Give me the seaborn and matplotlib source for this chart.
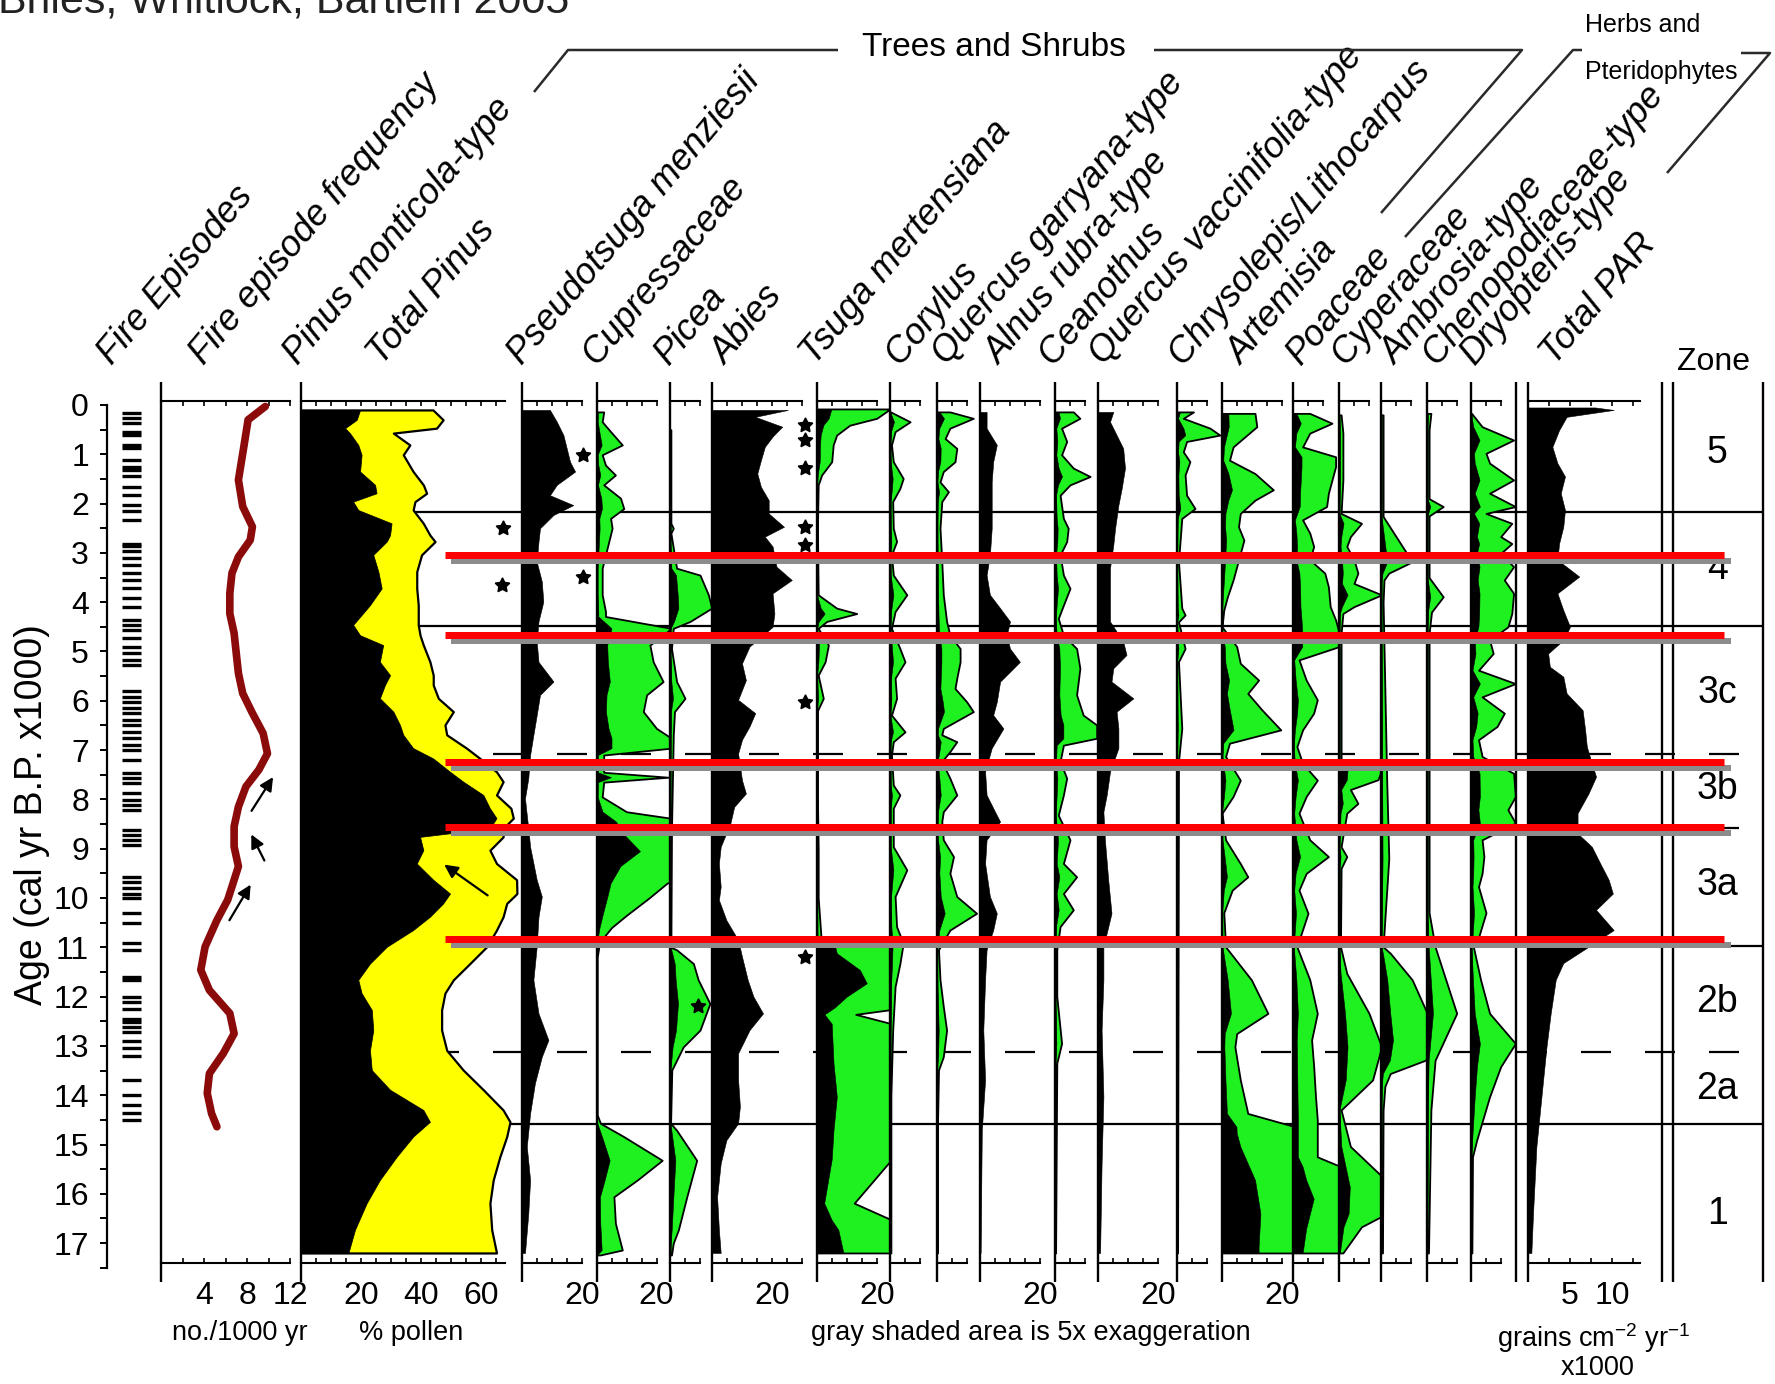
import numpy as np
import pandas as pd
import matplotlib
matplotlib.use("Agg")
import matplotlib.pyplot as plt
import seaborn as sns
from matplotlib import font_manager

# ------------------------------------------------------------------ data
# fire history
FIRE_EPISODE_AGES = [0.17, 0.27, 0.37, 0.54, 0.61, 0.81, 0.88, 1.12, 1.25, 1.32, 1.45, 1.66, 1.83,
                     2.03, 2.16, 2.33, 2.81, 2.87, 2.97, 3.11, 3.25, 3.41, 3.55, 3.72, 3.92, 4.09,
                     4.36, 4.46, 4.56, 4.73, 4.90, 5.04, 5.17, 5.27, 5.81, 5.92, 6.02, 6.15, 6.25,
                     6.39, 6.49, 6.63, 6.76, 6.90, 7.00, 7.20, 7.47, 7.57, 7.67, 7.88, 8.01, 8.11,
                     8.22, 8.62, 8.72, 8.82, 8.92, 9.57, 9.67, 9.80, 9.91, 10.01, 10.31, 10.51,
                     10.92, 11.05, 11.60, 11.66, 12.00, 12.10, 12.25, 12.45, 12.52, 12.62, 12.72,
                     12.90, 13.05, 13.20, 13.69, 14.00, 14.20, 14.37, 14.50]
FIRE_FREQ_AGES = [0.03, 0.30, 0.85, 1.52, 2.06, 2.47, 2.74, 3.08, 3.41, 3.82, 4.23, 4.63, 5.04,
                  5.44, 5.85, 6.25, 6.66, 7.07, 7.40, 7.74, 8.15, 8.55, 8.96, 9.36, 9.77, 10.04,
                  10.45, 10.99, 11.46, 11.87, 12.34, 12.75, 13.15, 13.56, 13.96, 14.37, 14.64]
FIRE_FREQ = [9.7, 8.1, 7.7, 7.2, 7.6, 8.5, 8.3, 7.2, 6.6, 6.4, 6.4, 6.8, 7.0, 7.2, 7.6, 8.5, 9.5,
             9.9, 9.1, 7.9, 7.2, 6.8, 6.8, 7.2, 6.6, 6.2, 5.2, 4.1, 3.7, 4.5, 6.4, 6.8, 5.8, 4.5,
             4.3, 4.7, 5.2]

# pine pollen (%)
PINUS_AGES = [0.10, 0.30, 0.47, 0.57, 0.81, 1.01, 1.35, 1.62, 1.79, 1.96, 2.13, 2.40, 2.64, 2.77,
              3.04, 3.38, 3.72, 4.06, 4.46, 4.67, 4.87, 5.21, 5.48, 5.68, 5.95, 6.22, 6.49, 6.69,
              6.96, 7.17, 7.44, 7.64, 7.91, 8.18, 8.38, 8.59, 8.76, 9.03, 9.30, 9.63, 9.91, 10.11,
              10.38, 10.65, 10.99, 11.33, 11.66, 11.93, 12.27, 12.68, 13.09, 13.49, 13.89, 14.30,
              14.54, 14.84, 15.25, 15.72, 16.19, 16.73, 17.20]
PINUS_MONTICOLA = [19.7, 18.6, 14.7, 16.3, 19.1, 20.2, 19.7, 24.7, 25.2, 17.4, 19.1, 30.2, 29.7,
                   28.6, 24.1, 25.8, 26.9, 23.0, 17.4, 19.7, 27.4, 26.3, 29.7, 28.0, 26.3, 30.8,
                   33.0, 34.1, 37.4, 44.1, 49.7, 54.1, 60.8, 63.0, 65.2, 63.0, 39.7, 40.8, 38.6,
                   44.1, 49.7, 47.4, 43.0, 37.4, 28.6, 23.0, 19.1, 20.2, 23.6, 24.1, 23.0, 23.6,
                   29.7, 40.8, 43.0, 37.4, 31.9, 26.3, 21.9, 18.0, 15.8]
PINUS_TOTAL = [44.0, 47.4, 45.2, 30.8, 36.3, 34.1, 37.4, 40.8, 41.9, 38.0, 37.4, 40.8, 43.0, 44.7,
               40.2, 38.6, 38.6, 39.1, 39.1, 39.7, 40.8, 43.0, 44.1, 44.1, 45.8, 50.8, 48.0, 48.6,
               55.2, 59.7, 65.2, 67.4, 65.2, 70.0, 70.8, 67.4, 67.4, 63.0, 65.2, 71.9, 72.0, 68.6,
               67.4, 65.2, 61.9, 56.3, 50.8, 48.0, 46.9, 46.9, 48.6, 54.1, 60.8, 67.4, 69.7, 68.6,
               66.3, 64.1, 63.0, 63.6, 65.2]

PSEUDOTSUGA_AGES = [0.10, 0.34, 0.61, 0.88, 1.15, 1.35, 1.62, 1.83, 2.03, 2.23, 2.50, 2.77, 3.18,
                    3.58, 3.99, 4.39, 4.80, 5.21, 5.61, 5.88, 6.29, 6.69, 7.10, 7.57, 7.98, 8.32,
                    8.59, 8.96, 9.63, 9.97, 10.38, 10.99, 11.66, 12.34, 12.88, 13.22, 13.76,
                    14.37, 15.04, 15.72, 16.40, 17.20]
PSEUDOTSUGA = [9.4, 11.7, 13.9, 15.0, 16.1, 17.8, 11.7, 9.4, 17.2, 10.6, 6.1, 5.6, 5.0, 6.7, 7.2,
               5.6, 5.0, 5.6, 10.6, 6.1, 5.0, 3.9, 2.8, 2.2, 1.1, 1.7, 2.2, 2.8, 5.0, 6.7, 5.6,
               5.0, 3.9, 5.6, 8.9, 6.7, 4.4, 2.8, 1.7, 2.8, 2.2, 1.1]

CUPRESSACEAE_AGES = [0.14, 0.34, 0.54, 0.81, 1.01, 1.22, 1.42, 1.62, 1.89, 2.10, 2.30, 2.50, 2.77,
                     3.04, 3.31, 3.85, 4.19, 4.29, 4.53, 4.87, 5.21, 5.61, 5.88, 6.22, 6.56, 6.76,
                     6.96, 7.10, 7.45, 7.55, 7.65, 7.95, 8.25, 8.45, 8.70, 9.05, 9.35, 9.70,
                     10.00, 10.35, 10.60, 10.90, 11.20, 14.40, 14.57, 14.84, 15.32, 15.72, 16.06,
                     16.60, 17.14, 17.24]
CUPRESSACEAE = [0.48, 0.38, 0.94, 1.72, 0.38, 0.6, 1.26, 0.48, 1.6, 1.82, 0.94, 1.04, 0.82, 0.6,
                0.38, 0.38, 0.6, 0.6, 5.0, 3.56, 3.78, 4.44, 3.34, 3.12, 4.0, 5.0, 5.0, 0.48,
                0.48, 4.8, 0.48, 0.38, 2.0, 6.5, 9.0, 14.5, 8.0, 4.7, 3.5, 2.0, 1.0, 0.2, 0.05,
                0.05, 0.26, 1.82, 4.38, 2.72, 1.16, 1.26, 1.72, 0.26]

PICEA_AGES = [0.50, 2.40, 2.50, 2.60, 3.31, 3.45, 3.85, 4.12, 4.39, 4.53, 4.94, 5.61, 5.95, 6.22,
              6.69, 8.60, 11.00, 11.05, 11.33, 11.66, 12.14, 12.68, 13.02, 13.49, 14.57, 14.71,
              15.32, 16.06, 16.73, 17.00, 17.24]
PICEA = [0.06, 0.06, 0.22, 0.06, 0.44, 2.0, 2.56, 2.78, 1.34, 0.22, 0.1, 0.44, 1.0, 0.3, 0.22,
         0.1, 0.06, 0.44, 1.56, 1.88, 2.66, 2.0, 0.88, 0.12, 0.04, 0.44, 1.78, 1.12, 0.56, 0.22,
         0.1]

ABIES_AGES = [0.10, 0.24, 0.44, 0.64, 0.85, 1.12, 1.39, 1.66, 1.93, 2.20, 2.47, 2.67, 2.87, 3.28,
              3.55, 3.82, 4.23, 4.50, 4.90, 5.24, 5.58, 5.98, 6.25, 6.52, 6.79, 7.07, 7.61, 7.88,
              8.15, 8.49, 8.96, 9.30, 9.77, 10.04, 10.45, 10.85, 11.19, 11.66, 12.00, 12.34,
              12.68, 13.15, 13.69, 14.23, 14.57, 14.91, 15.38, 16.06, 16.73, 17.20]
ABIES = [25.3, 14.4, 23.4, 20.2, 17.6, 16.3, 15.1, 16.3, 18.9, 18.9, 24.0, 17.6, 20.2, 21.5, 26.6,
         20.2, 20.8, 20.2, 12.5, 10.0, 11.3, 8.7, 14.4, 12.5, 10.0, 8.7, 10.0, 11.3, 7.4, 6.1,
         2.9, 2.3, 2.9, 2.3, 4.8, 8.7, 10.0, 11.9, 13.8, 17.0, 12.5, 8.7, 8.7, 9.3, 8.7, 4.8,
         2.9, 1.7, 2.3, 2.9]

TSUGA_AGES = [0.08, 0.27, 0.41, 0.61, 0.81, 1.15, 1.42, 1.62, 2.50, 3.85, 4.12, 4.23, 4.39, 4.53,
              4.87, 5.21, 5.48, 5.95, 6.20, 7.00, 8.00, 9.00, 10.00, 10.85, 10.95, 11.12, 11.46,
              11.73, 12.00, 12.22, 12.36, 12.55, 13.35, 14.03, 14.71, 15.30, 16.19, 16.53, 16.73,
              17.20]
TSUGA = [4.9, 4.0, 2.2, 1.33, 1.1, 1.0, 0.33, 0.1, 0.05, 0.1, 1.33, 2.67, 0.67, 0.1, 0.78, 0.56,
         0.1, 0.44, 0.05, 0.05, 0.05, 0.1, 0.1, 0.3, 6.0, 6.7, 14.4, 16.7, 10.0, 6.0, 2.6, 5.0,
         5.6, 6.7, 5.6, 5.0, 2.5, 5.0, 7.2, 8.9]

CORYLUS_AGES = [0.14, 0.34, 0.54, 0.81, 1.15, 1.49, 1.69, 1.96, 2.50, 2.77, 3.04, 3.45, 3.85,
                4.19, 4.53, 4.94, 5.21, 5.54, 5.95, 6.29, 6.63, 6.83, 7.10, 7.71, 7.91, 8.18,
                8.96, 9.43, 9.97, 10.58, 10.92, 11.33, 11.80, 12.68, 14.00, 17.20]
CORYLUS = [0.04, 1.34, 0.34, 0.1, 0.22, 0.88, 0.66, 0.18, 0.22, 0.44, 0.1, 0.22, 1.12, 0.34, 0.1,
           0.66, 1.0, 0.34, 0.44, 0.1, 1.0, 0.22, 0.1, 0.22, 0.66, 0.22, 0.22, 1.12, 0.34, 0.44,
           0.88, 0.66, 0.34, 0.18, 0.06, 0.06]

Q_GARRYANA_AGES = [0.14, 0.27, 0.47, 0.68, 0.88, 1.15, 1.35, 1.56, 1.76, 1.96, 2.50, 3.18, 3.85,
                   4.39, 4.67, 4.94, 5.21, 5.54, 5.75, 6.02, 6.22, 6.56, 6.69, 6.83, 7.03, 7.23,
                   7.57, 7.91, 8.25, 8.45, 8.82, 9.16, 9.50, 9.97, 10.31, 10.65, 11.05, 11.66,
                   12.20, 12.68, 13.22, 13.49, 14.50, 17.20]
Q_GARRYANA = [0.88, 2.44, 0.88, 0.56, 1.34, 1.22, 0.44, 0.22, 0.78, 0.34, 0.22, 0.34, 0.44, 0.66,
              0.88, 1.56, 1.56, 1.34, 1.22, 2.0, 2.44, 0.44, 0.34, 1.34, 0.88, 0.34, 0.88, 1.34,
              0.44, 0.34, 0.44, 1.12, 0.88, 1.34, 2.66, 0.88, 0.12, 0.22, 0.44, 0.66, 0.44, 0.12,
              0.06, 0.06]

ALNUS_AGES = [0.14, 0.47, 0.81, 1.15, 1.56, 1.96, 2.50, 3.04, 3.45, 3.85, 4.12, 4.39, 4.67, 4.94,
              5.21, 5.41, 5.61, 6.02, 6.29, 6.56, 6.96, 7.44, 7.91, 8.25, 8.45, 8.82, 9.30, 9.97,
              10.31, 10.65, 11.05, 11.66, 12.68, 13.69, 14.71, 17.20]
ALNUS = [2.2, 2.2, 5.6, 4.4, 3.9, 3.9, 3.9, 3.3, 2.2, 3.3, 6.7, 10.0, 8.9, 10.0, 13.3, 10.0, 6.7,
         5.6, 4.4, 7.8, 3.9, 1.7, 2.2, 5.0, 6.7, 2.2, 1.7, 3.3, 5.6, 4.4, 2.2, 1.7, 1.1, 1.7, 0.6,
         0.2]

CEANOTHUS_AGES = [0.14, 0.27, 0.47, 0.74, 1.01, 1.28, 1.45, 1.62, 1.83, 2.30, 2.50, 2.77, 3.04,
                  3.45, 3.72, 4.06, 4.33, 4.67, 4.94, 5.34, 5.88, 6.29, 6.49, 6.76, 6.90, 7.23,
                  7.57, 7.91, 8.32, 8.82, 9.30, 9.57, 9.91, 10.24, 10.58, 11.05, 12.00, 12.95,
                  13.35, 17.20]
CEANOTHUS = [1.22, 1.66, 0.44, 0.78, 0.44, 1.22, 2.34, 1.0, 0.34, 0.56, 0.88, 0.78, 0.34, 0.56,
             1.0, 0.56, 0.22, 0.56, 1.44, 1.66, 1.44, 1.88, 2.78, 2.78, 0.56, 0.34, 0.78, 0.56,
             0.22, 1.0, 0.56, 1.44, 0.56, 1.22, 0.34, 0.12, 0.12, 0.44, 0.12, 0.04]

Q_VACCINIFOLIA_AGES = [0.14, 0.34, 0.61, 0.88, 1.28, 1.69, 2.03, 2.50, 2.84, 3.31, 3.85, 4.39,
                       4.80, 5.07, 5.34, 5.61, 5.95, 6.22, 6.56, 6.96, 7.44, 7.91, 8.25, 8.82,
                       9.63, 10.31, 10.99, 11.66, 12.68, 14.03, 15.38, 17.20]
Q_VACCINIFOLIA = [5.0, 3.9, 6.1, 8.3, 8.9, 7.8, 6.7, 5.6, 5.0, 3.9, 3.9, 3.9, 8.3, 9.4, 5.0, 4.4,
                  11.7, 6.1, 6.7, 6.7, 3.9, 2.8, 1.7, 2.2, 3.3, 4.4, 1.7, 1.7, 1.1, 1.7, 1.1, 0.6]

CHRYSOLEPIS_AGES = [0.14, 0.27, 0.47, 0.61, 0.74, 0.95, 1.15, 1.42, 1.83, 2.10, 2.30, 3.18, 4.12,
                    4.26, 4.40, 4.94, 5.21, 6.56, 7.23, 17.20]
CHRYSOLEPIS = [1.12, 0.44, 2.22, 2.88, 0.66, 0.44, 0.88, 0.56, 0.66, 1.22, 0.34, 0.12, 0.34, 0.56,
               0.12, 0.56, 0.12, 0.34, 0.12, 0.06]

ARTEMISIA_AGES = [0.17, 0.44, 0.85, 1.12, 1.39, 1.72, 1.93, 2.20, 2.47, 2.74, 3.01, 3.28, 3.55,
                  3.89, 4.16, 4.50, 4.90, 5.24, 5.58, 5.85, 6.19, 6.59, 6.86, 7.13, 7.61, 7.94,
                  8.28, 8.82, 9.30, 9.57, 9.84, 10.30, 10.99, 11.66, 12.34, 12.75, 13.02, 13.69,
                  14.37, 14.64, 14.77, 15.04, 15.72, 16.40, 17.07, 17.20]
ARTEMISIA = [2.22, 2.34, 0.76, 0.52, 2.22, 3.44, 2.22, 1.24, 1.12, 1.48, 1.24, 1.0, 0.76, 0.38,
             0.14, 0.02, 1.0, 1.24, 2.46, 1.74, 2.7, 3.94, 0.52, 0.26, 1.24, 0.76, 0.02, 0.26,
             1.24, 1.74, 0.7, 0.14, 0.26, 1.98, 3.08, 1.0, 0.88, 1.24, 1.74, 4.9, 5.0, 6.2, 11.1,
             12.9, 12.3, 12.3]

POACEAE_AGES = [0.17, 0.37, 0.57, 0.85, 1.05, 1.25, 1.52, 1.79, 2.06, 2.33, 2.60, 2.87, 3.14,
                3.41, 3.69, 4.09, 4.36, 4.63, 4.90, 5.17, 5.58, 5.98, 6.25, 6.59, 6.93, 7.27,
                7.61, 7.94, 8.28, 8.82, 9.16, 9.50, 9.84, 10.31, 10.99, 11.66, 12.34, 12.88,
                13.42, 14.03, 14.50, 15.25, 15.45, 15.72, 16.10, 16.70, 17.20]
POACEAE = [1.12, 2.6, 1.12, 0.64, 2.84, 2.84, 2.6, 2.36, 2.24, 0.64, 1.12, 1.38, 1.12, 2.12, 2.36,
           2.48, 2.84, 3.08, 3.08, 0.4, 0.88, 1.62, 1.38, 0.64, 0.26, 0.64, 1.62, 0.88, 0.4,
           1.12, 2.36, 0.88, 0.4, 1.0, 0.26, 1.12, 1.62, 1.24, 1.38, 1.5, 1.62, 1.62, 3.2, 4.4,
           6.9, 4.4, 3.2]

CYPERACEAE_AGES = [0.20, 0.57, 1.52, 2.20, 2.40, 2.67, 2.87, 3.14, 3.41, 3.62, 3.85, 4.09, 4.23,
                   4.63, 7.25, 7.40, 7.60, 7.80, 8.08, 8.28, 8.96, 9.16, 9.40, 10.99, 11.53,
                   12.34, 13.02, 13.69, 14.30, 15.04, 15.86, 16.40, 16.67, 17.20]
CYPERACEAE = [0.14, 0.26, 0.26, 0.14, 1.5, 0.76, 0.52, 1.0, 1.26, 1.0, 2.84, 1.0, 0.26, 0.14,
              0.14, 2.84, 2.6, 0.76, 1.26, 0.52, 0.14, 0.52, 0.14, 0.1, 0.52, 2.0, 2.84, 2.24,
              0.14, 0.76, 3.6, 3.2, 1.5, 0.26]

AMBROSIA_AGES = [0.20, 2.26, 3.18, 3.41, 3.55, 4.00, 7.60, 9.20, 10.99, 11.12, 11.66, 12.34,
                 12.88, 13.29, 13.56, 13.82, 14.30, 17.20]
AMBROSIA = [0.14, 0.14, 2.08, 0.52, 0.2, 0.14, 0.38, 0.52, 0.14, 0.62, 2.08, 3.08, 4.0, 2.96,
            0.62, 0.26, 0.14, 0.1]

CHENOPODIACEAE_AGES = [0.17, 0.50, 1.90, 2.06, 2.25, 3.50, 3.89, 4.20, 4.63, 6.00, 10.30, 10.99,
                       12.34, 13.29, 14.30, 17.20]
CHENOPODIACEAE = [0.26, 0.14, 0.14, 1.08, 0.14, 0.14, 1.08, 0.3, 0.14, 0.14, 0.14, 0.54, 1.98,
                  0.54, 0.26, 0.1]

DRYOPTERIS_AGES = [0.17, 0.44, 0.71, 0.98, 1.18, 1.52, 1.79, 2.06, 2.20, 2.40, 2.67, 2.81, 3.01,
                   3.28, 3.55, 3.82, 4.23, 4.50, 4.77, 5.04, 5.38, 5.65, 5.92, 6.25, 6.52, 6.79,
                   7.13, 7.47, 7.94, 8.21, 8.48, 8.82, 9.16, 9.50, 9.77, 10.30, 10.80, 10.99,
                   11.66, 12.34, 12.95, 13.42, 14.03, 14.91, 15.25, 17.20]
DRYOPTERIS = [0.04, 0.74, 2.84, 1.0, 1.24, 2.84, 1.24, 2.96, 1.0, 2.72, 1.98, 2.72, 1.98, 2.84,
              2.22, 2.84, 2.72, 2.46, 1.24, 1.48, 0.5, 2.96, 0.74, 2.22, 1.74, 0.5, 0.74, 2.84,
              2.96, 2.46, 2.96, 0.74, 0.86, 0.74, 0.5, 1.0, 0.5, 0.16, 0.64, 1.24, 2.96, 1.98,
              1.24, 0.38, 0.1, 0.06]

# pollen accumulation rate (grains cm-2 yr-1 x1000)
PAR_AGES = [0.05, 0.10, 0.24, 0.51, 0.85, 1.18, 1.45, 1.79, 2.13, 2.47, 2.81, 3.14, 3.48, 3.82,
            4.16, 4.50, 4.77, 5.04, 5.31, 5.51, 5.85, 6.19, 6.59, 6.93, 7.27, 7.54, 7.88, 8.28,
            8.69, 8.96, 9.30, 9.63, 9.91, 10.24, 10.65, 10.99, 11.32, 11.66, 12.34, 13.02, 13.69,
            14.37, 15.04, 16.40, 17.20]
PAR = [8.0, 10.2, 4.6, 3.7, 2.9, 3.5, 4.4, 3.9, 4.4, 4.2, 3.7, 3.5, 6.1, 3.5, 4.2, 5.0, 4.2, 2.4,
       2.6, 4.2, 4.6, 6.5, 6.8, 7.0, 7.6, 8.1, 7.2, 5.9, 5.9, 7.6, 8.6, 9.6, 10.1, 8.1, 10.2, 7.2,
       4.2, 3.3, 2.7, 2.2, 1.8, 1.4, 1.0, 0.6, 0.4]

# zonation
ZONE_SOLID = [2.18, 4.48, 10.98, 14.58]
ZONE_DASHED = [7.08, 8.59, 13.12]
ZONE_NAMES = ["5", "4", "3c", "3b", "3a", "2b", "2a", "1"]
ZONE_NAME_AGES = [0.97, 3.33, 5.84, 7.79, 9.74, 12.10, 13.87, 16.40]
MARKED_AGES = [3.04, 4.67, 7.25, 8.55, 10.83]

# asterisks (age, value) per panel
STARS_PINUS = ([2.50, 3.66], [67.3, 67.0])
STARS_PSEUDOTSUGA = ([1.01, 3.49], [20.4, 20.4])
STARS_ABIES = ([0.41, 0.71, 1.28, 2.47, 2.84, 6.02, 11.20], [31.0] * 7)
STARS_PICEA = ([12.20], [9.3])

EXAGGERATION = 5

# ------------------------------------------------------------------ style
sns.set_theme(style="white")
installed = {f.name for f in font_manager.fontManager.ttflist}
SANS = "Liberation Sans" if "Liberation Sans" in installed else "DejaVu Sans"
NARROW = "Liberation Sans Narrow" if "Liberation Sans Narrow" in installed else SANS
plt.rcParams["font.family"] = [SANS, "DejaVu Sans"]
plt.rcParams["text.color"] = "black"
plt.rcParams["axes.edgecolor"] = "black"
plt.rcParams["xtick.color"] = "black"
plt.rcParams["ytick.color"] = "black"
plt.rcParams["mathtext.default"] = "regular"

GREEN = "#1ff01f"
YELLOW = "#ffff00"
DARKRED = "#8b0a0a"

W, H = 1775, 1384
TOP, BOT = 401, 1263
AGE0_PX, PX_PER_KA = 405.0, 49.3
PX = 0.72  # points per pixel at 100 dpi


def age_lim(y_top, y_bot):
    return ((y_bot - AGE0_PX) / PX_PER_KA, (y_top - AGE0_PX) / PX_PER_KA)


fig = plt.figure(figsize=(W / 100, H / 100), dpi=100)
fig.patch.set_facecolor("white")


def px_axes(x0, x1, y0=TOP, y1=BOT, z=2):
    ax = fig.add_axes([x0 / W, 1 - y1 / H, (x1 - x0) / W, (y1 - y0) / H], zorder=z)
    ax.set_facecolor("none")
    ax.set_ylim(*age_lim(y0, y1))
    ax.grid(False)
    return ax


def fig_xy(x, y):
    return x / W, 1 - y / H


def setup_panel(ax, xmax, axis_max, step, labels):
    ax.set_xlim(0, xmax)
    ax.set_ylim(*age_lim(TOP, BOT))
    for s in ("left", "right"):
        ax.spines[s].set_visible(False)
    for s in ("top", "bottom"):
        ax.spines[s].set_visible(True)
        ax.spines[s].set_bounds(0, axis_max)
        ax.spines[s].set_linewidth(1.5)
        ax.spines[s].set_color("black")
    ticks = np.arange(0, axis_max + 1e-6, step)
    ax.set_xticks(ticks)
    ax.set_xticklabels([("%g" % t) if any(abs(t - l) < 1e-6 for l in labels) else ""
                        for t in ticks])
    ax.tick_params(axis="x", which="both", direction="in", top=True, bottom=True,
                   labeltop=False, labelbottom=True, length=5 * PX, width=1.2,
                   labelsize=23, pad=13)
    for t in ax.get_xticklabels():
        t.set_fontfamily(NARROW)
    ax.yaxis.set_visible(False)


# backdrop: zone boundaries behind the curves
bg = px_axes(0, W, z=1)
bg.set_xlim(0, W)
bg.axis("off")
bg.hlines(ZONE_SOLID, 301, 1763, color="black", lw=1.6)
for a in ZONE_DASHED:
    bg.plot([301, 1763], [a, a], color="black", lw=1.6, dashes=(30 * PX / 1.6, 34 * PX / 1.6))

# fire episodes
fe = px_axes(118, 146)
fe.set_xlim(0, 1)
fe.axis("off")
fe.hlines(FIRE_EPISODE_AGES, 0.14, 0.82, color="black", lw=2.4)

# fire episode frequency
af = px_axes(161, 301)
fire_df = pd.DataFrame({"age": FIRE_FREQ_AGES, "freq": FIRE_FREQ})
sns.lineplot(data=fire_df, x="freq", y="age", orient="y", sort=False, estimator=None,
             color=DARKRED, lw=5.5, ax=af, legend=False, solid_joinstyle="round",
             solid_capstyle="round")
af.set_xlabel("")
af.set_ylabel("")
setup_panel(af, 13.02, 12, 2, [4, 8, 12])
arrow_kw = dict(arrowstyle="-|>", color="black", lw=1.6, mutation_scale=20)
af.annotate("", xy=(10.56, 7.50), xytext=(8.28, 8.28), arrowprops=arrow_kw)
af.annotate("", xy=(8.28, 8.66), xytext=(9.73, 9.29), arrowprops=arrow_kw)
af.annotate("", xy=(8.47, 9.68), xytext=(6.23, 10.50), arrowprops=arrow_kw)

# pine
ap = px_axes(301, 521.7)
ap.fill_betweenx(PINUS_AGES, 0, PINUS_TOTAL, facecolor=YELLOW, edgecolor="black", lw=1.6,
                 zorder=1)
ap.fill_betweenx(PINUS_AGES, 0, PINUS_MONTICOLA, facecolor="black", edgecolor="black", lw=0.5,
                 zorder=2)
ap.annotate("", xy=(47.0, 9.29), xytext=(63.0, 9.98), arrowprops=arrow_kw)
ap.plot(STARS_PINUS[1], STARS_PINUS[0], ls="none", marker=(5, 1, 0), ms=11, color="black")
setup_panel(ap, 73.6, 68, 5, [20, 40, 60])

# percentage panels: (x0, x1, ages, values, exaggerated, axis_max, labels)
PANELS = [
    (521.7, 596.5, PSEUDOTSUGA_AGES, PSEUDOTSUGA, False, 20, [20]),
    (596.5, 670.0, CUPRESSACEAE_AGES, CUPRESSACEAE, True, 20, [20]),
    (670.0, 712.0, PICEA_AGES, PICEA, True, 10, []),
    (712.0, 816.7, ABIES_AGES, ABIES, False, 30, [20]),
    (816.7, 890.0, TSUGA_AGES, TSUGA, True, 20, [20]),
    (890.0, 936.7, CORYLUS_AGES, CORYLUS, True, 10, []),
    (936.7, 980.0, Q_GARRYANA_AGES, Q_GARRYANA, True, 10, []),
    (980.0, 1055.0, ALNUS_AGES, ALNUS, False, 20, [20]),
    (1055.0, 1098.3, CEANOTHUS_AGES, CEANOTHUS, True, 10, []),
    (1098.3, 1176.7, Q_VACCINIFOLIA_AGES, Q_VACCINIFOLIA, False, 20, [20]),
    (1176.7, 1221.7, CHRYSOLEPIS_AGES, CHRYSOLEPIS, True, 10, []),
    (1221.7, 1293.0, ARTEMISIA_AGES, ARTEMISIA, True, 20, [20]),
    (1293.0, 1339.0, POACEAE_AGES, POACEAE, True, 10, []),
    (1339.0, 1381.0, CYPERACEAE_AGES, CYPERACEAE, True, 10, []),
    (1381.0, 1427.0, AMBROSIA_AGES, AMBROSIA, True, 10, []),
    (1427.0, 1471.0, CHENOPODIACEAE_AGES, CHENOPODIACEAE, True, 10, []),
    (1471.0, 1516.0, DRYOPTERIS_AGES, DRYOPTERIS, True, 10, []),
]
panel_axes = []
for x0, x1, ages, vals, exag, amax, labs in PANELS:
    ax = px_axes(x0, x1)
    v = np.asarray(vals, dtype=float)
    if exag:
        ax.fill_betweenx(ages, 0, EXAGGERATION * v, facecolor=GREEN, edgecolor="black",
                         lw=1.3, zorder=1)
    ax.fill_betweenx(ages, 0, v, facecolor="black", edgecolor="black", lw=0.4, zorder=2)
    setup_panel(ax, (x1 - x0) / 3.0, amax, 5, labs)
    panel_axes.append(ax)

star_kw = dict(ls="none", marker=(5, 1, 0), ms=11, color="black", clip_on=False, zorder=4)
panel_axes[0].plot(STARS_PSEUDOTSUGA[1], STARS_PSEUDOTSUGA[0], **star_kw)
panel_axes[3].plot(STARS_ABIES[1], STARS_ABIES[0], **star_kw)
panel_axes[2].plot(STARS_PICEA[1], STARS_PICEA[0], **star_kw)

# pollen accumulation rate
apar = px_axes(1528, 1662)
apar.fill_betweenx(PAR_AGES, 0, PAR, facecolor="black", edgecolor="black", lw=0.4)
setup_panel(apar, 15.95, 13.3, 2.5, [5, 10])

# age axis
aa = px_axes(107, 112, TOP, 1275)
aa.set_xlim(0, 1)
for s in ("top", "bottom", "right"):
    aa.spines[s].set_visible(False)
aa.spines["left"].set_visible(True)
aa.spines["left"].set_bounds(0, 17.5)
aa.spines["left"].set_linewidth(1.6)
aa.set_yticks(np.arange(0, 18, 1))
aa.set_yticks(np.arange(0.5, 17.6, 1), minor=True)
aa.set_yticklabels([str(i) for i in range(18)])
aa.tick_params(axis="y", which="both", direction="out", left=True, length=7 * PX, width=1.4,
               labelsize=23, pad=8)
aa.xaxis.set_visible(False)

# zone column labels
az = px_axes(1673, 1763, z=3)
az.set_xlim(0, 1)
az.axis("off")
for name, a in zip(ZONE_NAMES, ZONE_NAME_AGES):
    az.text(0.49, a, name, ha="center", va="center", fontsize=27)

# marker lines with drop shadow
ann = px_axes(0, W, z=6)
ann.set_xlim(0, W)
ann.axis("off")
ann.hlines(np.asarray(MARKED_AGES) + 6 / PX_PER_KA, 451, 1731, color="#8c8c8c", lw=6 * PX)
ann.hlines(MARKED_AGES, 445, 1724, color="#ff0000", lw=7 * PX)

# frame lines, group brackets
fg = fig.add_axes([0, 0, 1, 1], zorder=5)
fg.set_xlim(0, W)
fg.set_ylim(H, 0)
fg.axis("off")
fg.set_facecolor("none")
spine_x = [161, 301, 521.7, 596.5, 670, 712, 816.7, 890, 936.7, 980, 1055, 1098.3, 1176.7,
           1221.7, 1293, 1339, 1381, 1427, 1471, 1516, 1528, 1662, 1673, 1763]
fg.vlines(spine_x, 382, 1282, color="black", lw=1.7)
bracket_kw = dict(color="#2a2a2a", lw=1.8, solid_capstyle="butt")
fg.plot([534, 568, 838], [92, 50, 50], **bracket_kw)
fg.plot([1154, 1522, 1381], [50, 50, 213], **bracket_kw)
fg.plot([1405, 1573, 1582], [237, 50, 50], **bracket_kw)
fg.plot([1741, 1770, 1667], [53, 53, 173], **bracket_kw)

# text
fig.text(*fig_xy(-2, 12), "Briles, Whitlock, Bartlein 2005", fontsize=31, color="#222222",
         ha="left", va="baseline")
fig.text(*fig_xy(994, 47), "Trees and Shrubs", fontsize=24, family=NARROW, ha="center",
         va="center")
fig.text(*fig_xy(1585, 25), "Herbs and", fontsize=18, family=NARROW, ha="left", va="center")
fig.text(*fig_xy(1585, 72), "Pteridophytes", fontsize=18, family=NARROW, ha="left",
         va="center")

HEADERS = ["Fire Episodes", "Fire episode frequency", "Pinus monticola-type", "Total Pinus",
           "Pseudotsuga menziesii", "Cupressaceae", "Picea", "Abies", "Tsuga mertensiana",
           "Corylus", "Quercus garryana-type", "Alnus rubra-type", "Ceanothus",
           "Quercus vaccinifolia-type", "Chrysolepis/Lithocarpus", "Artemisia", "Poaceae",
           "Cyperaceae", "Ambrosia-type", "Chenopodiaceae-type", "Dryopteris-type", "Total PAR"]
header_x = [112, 204, 298, 382, 522, 597, 669, 726, 815, 900, 947, 1000, 1053, 1104, 1183, 1242,
            1301, 1346, 1396, 1437, 1475, 1555]
for label, x in zip(HEADERS, header_x):
    fig.text(*fig_xy(x, 366), label, fontsize=26, fontstyle="italic", rotation=50,
             rotation_mode="anchor", ha="left", va="baseline")
fig.text(*fig_xy(1713, 362), "Zone", fontsize=23, family=NARROW, ha="center", va="center")

fig.text(*fig_xy(32, 815), "Age (cal yr B.P. x1000)", fontsize=27, rotation=90, ha="center",
         va="center")
unit_kw = dict(fontsize=19.5, family=NARROW, ha="center", va="center")
fig.text(*fig_xy(240, 1333), "no./1000 yr", **unit_kw)
fig.text(*fig_xy(411, 1333), "% pollen", **unit_kw)
fig.text(*fig_xy(1031, 1333), "gray shaded area is 5x exaggeration", **unit_kw)
fig.text(*fig_xy(1594, 1338), r"grains cm$^{-2}$ yr$^{-1}$", **unit_kw)
fig.text(*fig_xy(1598, 1368), "x1000", **unit_kw)

fig.savefig("out.png", dpi=100, facecolor="white")
